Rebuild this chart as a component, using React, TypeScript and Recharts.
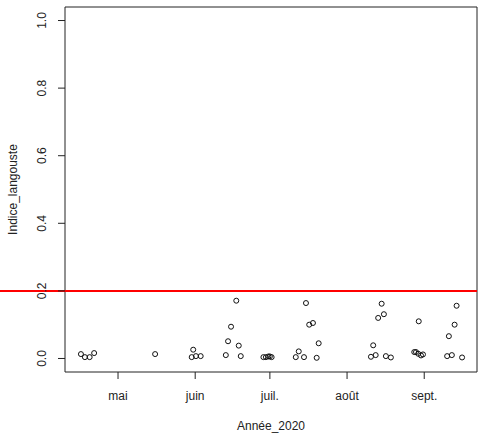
import React from "react";
import {
  ScatterChart, Scatter, XAxis, YAxis, ReferenceLine, ReferenceArea, Label,
} from "recharts";

// day of year 2020 (leap year) for each sample
const days = [
  107.1, 108.7, 110.6, 112.4, 136.9,
  151.6, 152.2, 153.3, 155.2,
  165.3, 166.2, 167.4, 169.5, 170.5, 171.3,
  180.4, 181.4, 182.4, 183.0, 183.7,
  193.4, 194.6, 196.7, 197.5, 198.8, 200.3, 201.8, 202.6,
  223.6, 224.5, 225.5, 226.5, 227.9, 228.8, 229.6, 231.6,
  241.0, 241.7, 242.6, 242.8, 243.7, 244.5,
  254.2, 254.9, 256.1, 257.2, 258.0, 260.2,
];
const indice = [
  0.013, 0.004, 0.004, 0.016, 0.013,
  0.004, 0.026, 0.007, 0.007,
  0.010, 0.051, 0.094, 0.171, 0.038, 0.007,
  0.004, 0.004, 0.006, 0.006, 0.004,
  0.004, 0.021, 0.004, 0.164, 0.100, 0.105, 0.002, 0.045,
  0.005, 0.039, 0.010, 0.120, 0.162, 0.131, 0.007, 0.003,
  0.019, 0.019, 0.014, 0.110, 0.009, 0.012,
  0.007, 0.066, 0.010, 0.100, 0.156, 0.003,
];

const monthDays = [122, 153, 183, 214, 245];
const monthLabels = ["mai", "juin", "juil.", "août", "sept."];
const yTicks = [0, 0.2, 0.4, 0.6, 0.8, 1.0];
const seuil = 0.2;

const xDomain: [number, number] = [100.7, 266.2];
const yDomain: [number, number] = [-0.04, 1.04];

const data = days.map((d, i) => ({ jour: d, indice: indice[i] }));

const FONT = "'Liberation Sans', Arial, sans-serif";

const YTick = ({ x, y, payload }: any) => (
  <text
    x={x - 10}
    y={y}
    transform={`rotate(-90, ${x - 10}, ${y})`}
    textAnchor="middle"
    fontSize={12}
    fontFamily={FONT}
    fill="#222"
  >
    {payload.value.toFixed(1)}
  </text>
);

const XTick = ({ x, y, payload }: any) => (
  <text x={x} y={y + 19} textAnchor="middle" fontSize={12} fontFamily={FONT} fill="#222">
    {monthLabels[monthDays.indexOf(payload.value)]}
  </text>
);

const Dot = ({ cx, cy }: any) => (
  <circle cx={cx} cy={cy} r={2.5} fill="none" stroke="#111" strokeWidth={1} />
);

const RedLine = (props: any) => (
  <line x1={0} y1={props.y1} x2={props.x2} y2={props.y2} stroke="#f00" strokeWidth={2} />
);

export default function App() {
  return (
    <div style={{ position: "absolute", left: 0, top: 0, background: "#fff" }}>
      <ScatterChart
        width={499}
        height={438}
        margin={{ top: 7, right: 22, bottom: 0, left: 0 }}
      >
        <XAxis
          type="number"
          dataKey="jour"
          domain={xDomain}
          ticks={monthDays}
          allowDataOverflow
          axisLine={false}
          tickLine={{ stroke: "#222" }}
          tickSize={7}
          tick={<XTick />}
          height={66}
        >
          <Label
            value="Année_2020"
            position="insideBottom"
            offset={8}
            style={{ fontSize: 12, fontFamily: FONT, fill: "#222" }}
          />
        </XAxis>
        <YAxis
          type="number"
          dataKey="indice"
          domain={yDomain}
          ticks={yTicks}
          allowDataOverflow
          axisLine={false}
          tickLine={{ stroke: "#222" }}
          tickSize={7}
          tick={<YTick />}
          width={65}
        >
          <Label
            value="Indice_langouste"
            angle={-90}
            position="insideLeft"
            offset={13}
            style={{ fontSize: 12, fontFamily: FONT, fill: "#222", textAnchor: "middle" }}
          />
        </YAxis>
        <ReferenceArea
          x1={xDomain[0]}
          x2={xDomain[1]}
          y1={yDomain[0]}
          y2={yDomain[1]}
          fill="none"
          stroke="#222"
          strokeWidth={1}
          ifOverflow="visible"
        />
        <Scatter data={data} shape={<Dot />} isAnimationActive={false} />
        <ReferenceLine y={seuil} shape={RedLine} ifOverflow="visible" />
      </ScatterChart>
    </div>
  );
}
